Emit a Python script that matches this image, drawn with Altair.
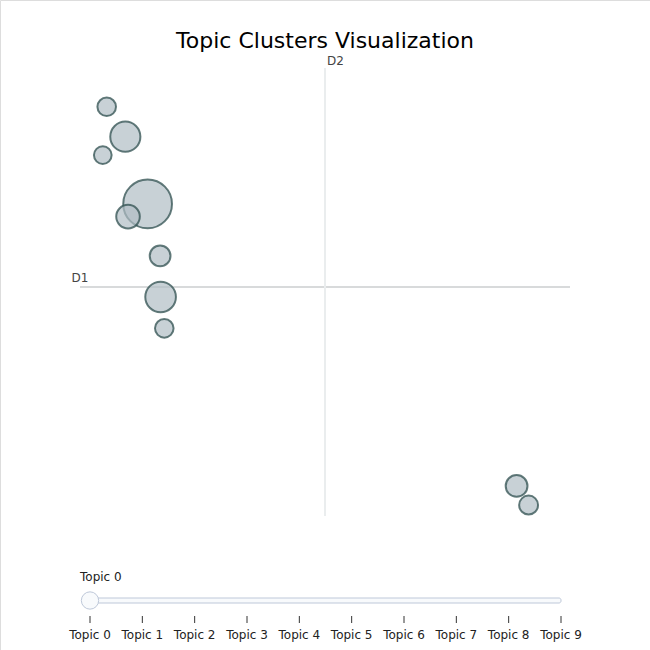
import altair as alt
import pandas as pd

# Topic cluster data (2-D embedding coordinates and topic frequencies)
topics = [f"Topic {i}" for i in range(10)]
xs = [2.76, 3.29, 1.85, 1.96, 17.82, 3.27, 18.31, 1.09, 3.44, 0.93]
ys = [12.54, 8.80, 15.24, 12.03, 1.21, 10.45, 0.44, 16.44, 7.54, 14.50]
freqs = [756, 299, 289, 177, 151, 137, 114, 110, 110, 100]

x_domain = [0, 20]
y_domain = [0, 18]
x_mid = 10
y_mid = 9.2

FONT = "DejaVu Sans"

df = pd.DataFrame({"topic": topics, "x": xs, "y": ys, "freq": freqs})

xs_scale = alt.Scale(domain=x_domain, range=[80, 570], nice=False, zero=False)
ys_scale = alt.Scale(domain=y_domain, range=[516, 68], nice=False, zero=False)

# axis cross lines
hline = alt.Chart(pd.DataFrame({"x": [x_domain[0]], "x2": [x_domain[1]], "y": [y_mid]})).mark_rule(
    color="#D8DADB", strokeWidth=2
).encode(
    x=alt.X("x:Q", scale=xs_scale, axis=None),
    x2="x2:Q",
    y=alt.Y("y:Q", scale=ys_scale, axis=None),
)
vline = alt.Chart(pd.DataFrame({"x": [x_mid], "y": [y_domain[0]], "y2": [y_domain[1]]})).mark_rule(
    color="#EAEDEE", strokeWidth=2
).encode(
    x=alt.X("x:Q", scale=xs_scale, axis=None),
    y=alt.Y("y:Q", scale=ys_scale, axis=None),
    y2="y2:Q",
)
d1 = alt.Chart(pd.DataFrame({"x": [x_domain[0]], "y": [y_mid], "t": ["D1"]})).mark_text(
    font=FONT, fontSize=12, color="#444", align="center", baseline="bottom", dy=-2
).encode(
    x=alt.X("x:Q", scale=xs_scale, axis=None),
    y=alt.Y("y:Q", scale=ys_scale, axis=None),
    text="t:N",
)
d2 = alt.Chart(pd.DataFrame({"x": [x_mid], "y": [y_domain[1]], "t": ["D2"]})).mark_text(
    font=FONT, fontSize=12, color="#444", align="left", baseline="bottom", dx=2, dy=0
).encode(
    x=alt.X("x:Q", scale=xs_scale, axis=None),
    y=alt.Y("y:Q", scale=ys_scale, axis=None),
    text="t:N",
)

bubbles = alt.Chart(df).mark_circle(
    color="#B0BEC5", stroke="#2F4F4F", strokeWidth=2, fillOpacity=0.7, strokeOpacity=0.75, opacity=1
).encode(
    x=alt.X("x:Q", scale=xs_scale, axis=None),
    y=alt.Y("y:Q", scale=ys_scale, axis=None),
    size=alt.Size("freq:Q", scale=alt.Scale(domain=[0, 756], range=[0, 2375]), legend=None),
)

title = alt.Chart(pd.DataFrame({"t": ["Topic Clusters Visualization"]})).mark_text(
    font=FONT, fontSize=22, color="black", align="center", baseline="alphabetic"
).encode(x=alt.value(325), y=alt.value(48), text="t:N")

# slider
slider_df = pd.DataFrame({"topic": topics})
sx = alt.Scale(type="point", domain=topics, range=[90, 561], padding=0)

rail = alt.Chart(pd.DataFrame({"a": [topics[0]], "b": [topics[-1]]})).mark_rect(
    fill="#F8FAFC", stroke="#BEC8D9", strokeWidth=1, cornerRadius=2
).encode(
    x=alt.X("a:N", scale=sx, axis=None),
    x2="b:N",
    y=alt.value(598),
    y2=alt.value(603),
)
ticks = alt.Chart(slider_df).mark_rule(color="#333", strokeWidth=1).encode(
    x=alt.X("topic:N", scale=sx, axis=None),
    y=alt.value(616),
    y2=alt.value(623),
)
tick_labels = alt.Chart(slider_df).mark_text(
    font=FONT, fontSize=12, color="#222", align="center", baseline="middle"
).encode(
    x=alt.X("topic:N", scale=sx, axis=None),
    y=alt.value(635),
    text="topic:N",
)
handle = alt.Chart(pd.DataFrame({"topic": [topics[0]]})).mark_circle(
    fill="#F8FAFC", stroke="#BEC8D9", strokeWidth=1, opacity=1, size=300
).encode(
    x=alt.X("topic:N", scale=sx, axis=None),
    y=alt.value(600.5),
)
current = alt.Chart(pd.DataFrame({"topic": [topics[0]]})).mark_text(
    font=FONT, fontSize=12, color="#222", align="left", baseline="middle", dx=-10
).encode(
    x=alt.X("topic:N", scale=sx, axis=None),
    y=alt.value(577),
    text="topic:N",
)

chart = alt.layer(
    hline, vline, d1, d2, bubbles, title, rail, ticks, tick_labels, handle, current
).resolve_scale(x="independent", y="independent").properties(
    width=650, height=650, autosize=alt.AutoSizeParams(type="none"), padding=0
).configure_view(stroke=None).configure(background="white")

chart.save("out.html", embed_options={"renderer": "svg", "actions": False})
